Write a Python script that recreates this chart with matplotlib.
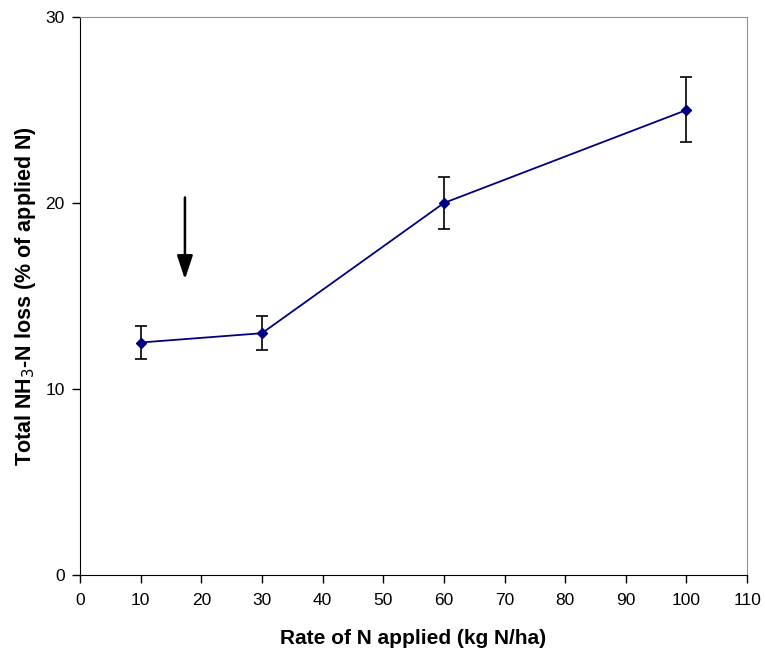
import matplotlib.pyplot as plt

plt.rcParams['font.family'] = ['Liberation Sans', 'DejaVu Sans']

# data
rate = [10, 30, 60, 100]
nh3_loss = [12.5, 13.0, 20.0, 25.0]
err_low = [0.9, 0.9, 1.4, 1.7]
err_high = [0.9, 0.9, 1.4, 1.8]
xticks = list(range(0, 111, 10))
yticks = [0, 10, 20, 30]

fig = plt.figure(figsize=(7.65, 6.5), dpi=100)
ax = fig.add_axes([0.1046, 0.1154, 0.872, 0.8584])

ax.errorbar(rate, nh3_loss, yerr=[err_low, err_high], fmt='none', ecolor='black',
            elinewidth=1.2, capsize=4, capthick=1.2, zorder=2)
ax.plot(rate, nh3_loss, color='#000080', lw=1.3, marker='D', markersize=5,
        markerfacecolor='#000080', markeredgecolor='#000080', zorder=3)

# arrow marking the 17 kg N/ha point
ax.annotate('', xy=(17.3, 15.9), xytext=(17.3, 20.3),
            arrowprops=dict(arrowstyle='-|>,head_width=0.4,head_length=1.2',
                            mutation_scale=12, color='black', lw=1.8,
                            shrinkA=0, shrinkB=0))

ax.set_xlim(0, 110)
ax.set_ylim(0, 30)
ax.set_xticks(xticks)
ax.set_yticks(yticks)
ax.tick_params(labelsize=12.5, direction='out', length=6, width=1)
ax.tick_params(axis='x', pad=7)
ax.tick_params(axis='y', pad=5)

for side in ['top', 'right']:
    ax.spines[side].set_color('#909090')
for side in ['left', 'bottom']:
    ax.spines[side].set_color('black')

ax.set_xlabel('Rate of N applied (kg N/ha)', fontsize=15, fontweight='bold', labelpad=15)
ax.set_ylabel('Total NH$_3$-N loss (% of applied N)', fontsize=15.5, fontweight='bold', labelpad=5)

fig.savefig('out.png', dpi=100)
